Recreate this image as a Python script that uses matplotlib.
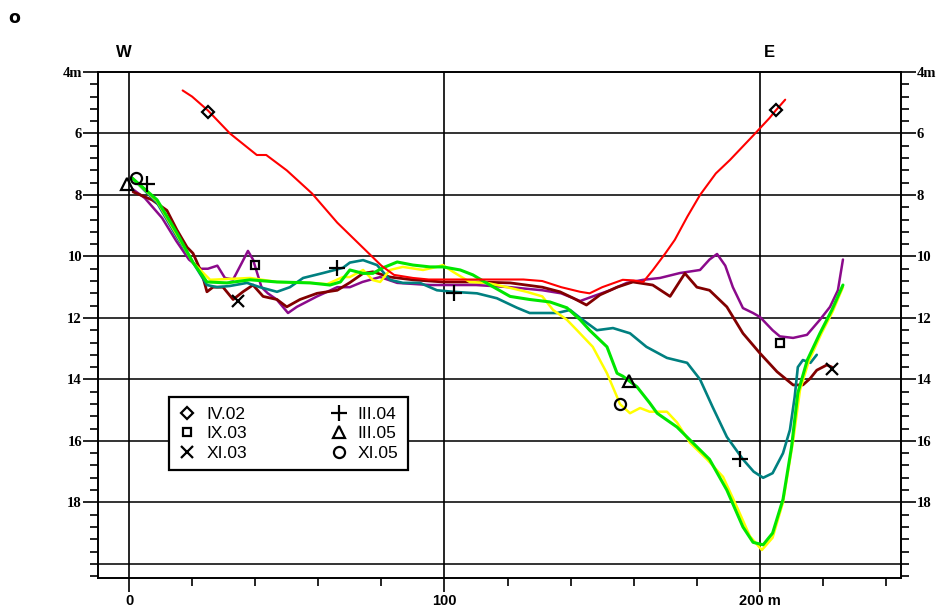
import matplotlib
matplotlib.use("Agg")
import matplotlib.pyplot as plt
from matplotlib.lines import Line2D
import numpy as np

# ---------------- data ----------------
series_names = ["IV.02", "IX.03", "XI.03", "III.04", "III.05", "XI.05"]

iv02_x = [17, 20, 25, 32, 40.5, 43.5, 50, 58, 66, 72, 76.5, 80, 84, 90, 95, 105, 114, 125, 131, 137, 143, 146,
          150, 156.5, 160, 163, 166, 170, 173, 177, 181, 186, 190.5, 198, 203, 205, 208]
iv02_y = [4.6, 4.8, 5.25, 6.0, 6.7, 6.7, 7.2, 7.95, 8.9, 9.5, 9.95, 10.3, 10.6, 10.7, 10.75, 10.75, 10.75, 10.75,
          10.8, 11.0, 11.15, 11.2, 11.0, 10.76, 10.78, 10.83, 10.45, 9.9, 9.46, 8.7, 8.0, 7.3, 6.86, 6.05, 5.5,
          5.25, 4.9]

ix03_x = [1, 5, 10.5, 15, 19, 22.5, 25, 28, 30.4, 33, 35.8, 37.7, 39.3, 42, 44, 46.8, 50.4, 53.2, 59.6, 66, 70,
          74, 79.6, 85, 95.4, 110, 120.8, 131, 137, 143, 147, 152.5, 157.8, 163, 168.3, 174.6, 181, 184, 186.4,
          189, 191.4, 194.6, 197.8, 200, 204, 206.3, 210.5, 214.9, 219, 222.2, 224.7, 226.3]
ix03_y = [7.8, 8.1, 8.75, 9.5, 10.1, 10.4, 10.4, 10.3, 10.7, 10.75, 10.2, 9.82, 10.1, 11.0, 11.2, 11.4, 11.84,
          11.64, 11.3, 11.0, 11.0, 10.83, 10.67, 10.86, 10.93, 10.93, 11.0, 11.1, 11.2, 11.45, 11.3, 11.1, 10.86,
          10.76, 10.7, 10.54, 10.44, 10.1, 9.92, 10.3, 11.0, 11.68, 11.84, 11.97, 12.4, 12.6, 12.65, 12.55,
          12.06, 11.64, 11.1, 10.1]

xi03_x = [1.3, 7.3, 12, 15.2, 18.4, 20.3, 23.1, 24.7, 26.6, 29.8, 33, 36.1, 39.3, 42.5, 46.9, 50, 54.2, 59.6,
          66, 70, 74.2, 77.3, 82.7, 90, 99.5, 110, 120.8, 131, 136.6, 140.7, 145, 149.3, 154.7, 159.7, 166,
          171.5, 176.2, 180, 184, 189.5, 194.6, 200, 205.4, 210.5, 213.6, 215.9, 218, 221.2, 222.8]
xi03_y = [7.9, 8.16, 8.5, 9.14, 9.7, 9.9, 10.55, 11.15, 11.0, 11.0, 11.4, 11.15, 10.93, 11.3, 11.4, 11.64, 11.4,
          11.2, 11.1, 10.85, 10.55, 10.5, 10.67, 10.76, 10.83, 10.83, 10.86, 11.0, 11.15, 11.35, 11.58, 11.25,
          11.0, 10.83, 10.93, 11.3, 10.55, 11.0, 11.1, 11.64, 12.5, 13.15, 13.75, 14.18, 14.18, 13.97, 13.7,
          13.53, 13.6]

iii04_x = [1, 8.9, 15.2, 20.3, 24.7, 27.9, 32, 37.4, 41.5, 46.9, 51, 55.2, 61.5, 67.8, 70, 74.2, 78.6, 82.7,
           86.8, 92.2, 97.6, 102.7, 110.3, 116.6, 123, 127, 135.7, 139.8, 143, 148.3, 153.4, 158.8, 164, 170.5,
           176.9, 181, 185, 189.5, 194.6, 198, 201, 204, 207.3, 209.5, 211, 212, 213.6, 216, 218]
iii04_y = [7.45, 8.26, 9.37, 10.2, 10.93, 11.0, 10.96, 10.86, 11.0, 11.15, 11.0, 10.7, 10.54, 10.37, 10.2,
           10.12, 10.28, 10.76, 10.86, 10.86, 11.1, 11.15, 11.2, 11.36, 11.67, 11.84, 11.84, 11.74, 12.0, 12.4,
           12.33, 12.5, 12.94, 13.3, 13.46, 14.0, 14.9, 15.87, 16.6, 17.0, 17.2, 17.05, 16.4, 15.64, 14.57, 13.6,
           13.37, 13.46, 13.2]

iii05_x = [1, 8.9, 15.2, 20.3, 24.7, 31, 38.4, 46.9, 57.4, 63.7, 67, 70, 74.2, 77.3, 80.5, 85, 90, 95.4, 99.5,
           105, 109, 114.4, 120.8, 127, 133.4, 138.8, 143, 146, 151.5, 154.7, 156.6, 161, 165, 167.4, 173.7,
           177.8, 184, 189.5, 194.6, 197.8, 201, 204, 207.3, 210, 212, 215, 219, 222.8, 226.3]
iii05_y = [7.45, 8.16, 9.24, 10.2, 10.83, 10.86, 10.76, 10.83, 10.86, 10.93, 10.83, 10.44, 10.55, 10.55, 10.37,
           10.18, 10.28, 10.34, 10.34, 10.44, 10.6, 10.93, 11.3, 11.4, 11.48, 11.67, 12.06, 12.4, 12.94, 13.8,
           13.9, 14.24, 14.76, 15.1, 15.55, 15.97, 16.6, 17.6, 18.8, 19.3, 19.38, 19.0, 17.9, 16.2, 14.44, 13.37,
           12.5, 11.74, 10.93]

xi05_x = [1, 8.9, 15.2, 20.3, 25.7, 38.4, 46.9, 57.4, 62.8, 67.8, 70, 74.2, 77.3, 79.6, 82.7, 86.8, 93.2, 97.6,
          99.5, 102.7, 108, 113.5, 119.8, 126, 131, 134.4, 138.8, 142, 147, 151.5, 154.7, 155.6, 158.8, 162, 165,
          170.5, 173.7, 177.8, 183.2, 188.3, 192.7, 196.8, 200.6, 204, 207.3, 210.5, 212.7, 215.5, 219.5, 223,
          226.3]
xi05_y = [7.45, 8.2, 9.3, 10.2, 10.76, 10.7, 10.83, 10.86, 10.9, 10.67, 10.67, 10.44, 10.77, 10.83, 10.44, 10.34,
          10.44, 10.34, 10.28, 10.5, 10.83, 10.86, 11.0, 11.15, 11.3, 11.74, 12.06, 12.4, 12.94, 13.8, 14.57,
          14.8, 15.1, 14.93, 15.05, 15.05, 15.4, 16.06, 16.6, 17.17, 18.15, 19.1, 19.55, 19.15, 18.0, 16.0,
          14.34, 13.4, 12.5, 11.8, 11.0]

# symbol positions (labels along the profiles)
iv02_mx, iv02_my = [25, 205], [5.3, 5.25]
ix03_mx, ix03_my = [40, 206.3], [10.28, 12.8]
xi03_mx, xi03_my = [34.5, 222.8], [11.45, 13.66]
iii04_mx, iii04_my = [5.7, 66, 103, 193.7], [7.64, 10.37, 11.19, 16.6]
iii05_mx, iii05_my = [-0.6, 158.5], [7.64, 14.05]
xi05_mx, xi05_my = [2.2, 155.6], [7.45, 14.8]

x_tick_labels = ["0", "100", "200 m"]
y_tick_labels = ["4m", "6", "8", "10", "12", "14", "16", "18"]

# ---------------- styles ----------------
colors = {"IV.02": "#ff0000", "IX.03": "#8b0a8b", "XI.03": "#820000",
          "III.04": "#008080", "III.05": "#00e600", "XI.05": "#ffff00"}
markers = {"IV.02": ("D", 6.0), "IX.03": ("s", 5.5), "XI.03": ("x", 9),
           "III.04": ("+", 11), "III.05": ("^", 9), "XI.05": ("o", 8)}

lines = {"IV.02": (iv02_x, iv02_y), "IX.03": (ix03_x, ix03_y), "XI.03": (xi03_x, xi03_y),
         "III.04": (iii04_x, iii04_y), "III.05": (iii05_x, iii05_y), "XI.05": (xi05_x, xi05_y)}
marks = {"IV.02": (iv02_mx, iv02_my), "IX.03": (ix03_mx, ix03_my), "XI.03": (xi03_mx, xi03_my),
         "III.04": (iii04_mx, iii04_my), "III.05": (iii05_mx, iii05_my), "XI.05": (xi05_mx, xi05_my)}
draw_order = ["IX.03", "XI.03", "III.04", "XI.05", "III.05", "IV.02"]
widths = {"IV.02": 1.5, "IX.03": 1.8, "XI.03": 2.0, "III.04": 1.9, "III.05": 2.2, "XI.05": 1.8}

W, H = 937, 609
fig = plt.figure(figsize=(W / 100, H / 100), dpi=100)
ax = fig.add_axes([98 / W, 1 - 578 / H, (901 - 98) / W, (578 - 72) / H])

ax.set_xlim(-9.83, 244.7)
ax.set_ylim(20.46, 4.0)

# grid lines
for d in range(6, 21, 2):
    ax.axhline(d, color="#333333", lw=1.4, zorder=1)
ax.set_xticks([0, 100, 200])
ax.grid(axis="x", color="black", lw=1.2, zorder=1)
ax.grid(axis="y", visible=False)

for name in draw_order:
    xs, ys = lines[name]
    ax.plot(xs, ys, color=colors[name], lw=widths[name], zorder=3, solid_capstyle="round")

for name in series_names:
    mx, my = marks[name]
    m, ms = markers[name]
    ax.plot(mx, my, linestyle="None", marker=m, markersize=ms, markerfacecolor="none",
            markeredgecolor="black", markeredgewidth=1.6, zorder=5, clip_on=False)

# ticks
ax.set_xticklabels(x_tick_labels, fontfamily="Liberation Sans", fontweight="bold", fontsize=10.5)
ax.set_xticks(np.arange(20, 241, 20), minor=True)
ax.tick_params(axis="x", which="major", direction="out", length=10, width=1.2, pad=1.5, colors="black")
ax.tick_params(axis="x", which="minor", direction="out", length=6, width=1.2)

ax.set_yticks(np.arange(4, 19, 2))
ax.set_yticklabels(y_tick_labels, fontfamily="Liberation Serif", fontweight="bold", fontsize=10.5)
ax.set_yticks(np.arange(4, 20.5, 0.4), minor=True)
ax.tick_params(axis="y", which="major", direction="out", length=11, width=1.2, pad=0.5,
               left=True, right=True, labelleft=True, labelright=True)
ax.tick_params(axis="y", which="minor", direction="out", length=6, width=1.2, left=True, right=True)

for s in ax.spines.values():
    s.set_color("black")
    s.set_linewidth(1.4)

# direction labels
ax.text(-1.6, 3.35, "W", ha="center", va="center", fontfamily="Liberation Sans", fontweight="bold",
        fontsize=12, clip_on=False)
ax.text(202.9, 3.35, "E", ha="center", va="center", fontfamily="Liberation Sans", fontweight="bold",
        fontsize=12, clip_on=False)
fig.text(14 / W, 1 - 18 / H, "o", ha="center", va="center", fontfamily="DejaVu Sans", fontweight="bold",
         fontsize=12.5)

# legend
handles = [Line2D([], [], linestyle="None", marker=markers[n][0], markersize=markers[n][1],
                  markerfacecolor="none", markeredgecolor="black", markeredgewidth=1.6)
           for n in series_names]
leg = ax.legend(handles, series_names, ncol=2, loc="upper left",
                bbox_to_anchor=((169 - 98) / 803, (578 - 397) / 506, (408 - 169) / 803, 0.0),
                mode="expand", borderaxespad=0, frameon=True, fancybox=False, framealpha=1,
                edgecolor="black", handlelength=1.0, handletextpad=0.6, labelspacing=0.25,
                borderpad=0.55, prop={"family": "Liberation Sans", "size": 12.5})
leg.get_frame().set_linewidth(1.6)
leg.set_zorder(10)

fig.savefig("out.png", dpi=100)
